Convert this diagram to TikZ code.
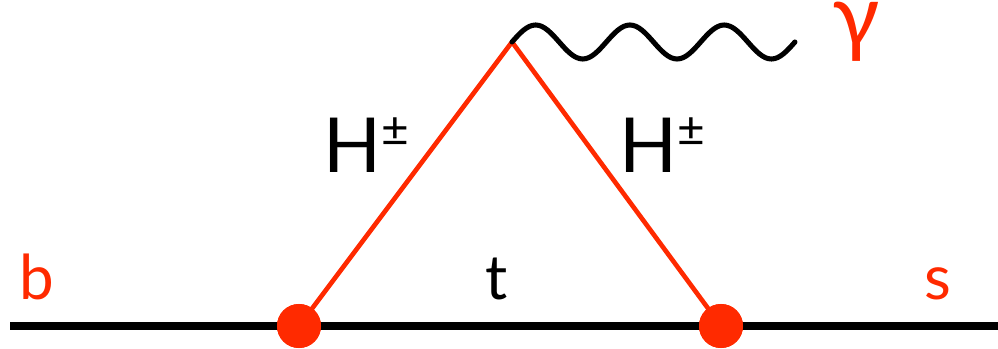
\documentclass[tikz,border=0pt]{standalone}
\usepackage{fontspec}
\setmainfont{Lato}
\usepackage{xcolor}
\usetikzlibrary{positioning}

\definecolor{vtxred}{HTML}{FF2A00}

\newcommand{\chpm}{H\raisebox{19pt}{\fontsize{34}{34}\selectfont ±}}

\begin{document}
\begin{tikzpicture}[
  x=0.025cm, y=0.025cm,
  quark/.style={line width=5.2pt, black},
  higgs/.style={line width=3.3pt, vtxred},
  photon/.style={line width=3.6pt, black, line cap=round},
  vtx/.style={circle, fill=vtxred, inner sep=0pt, minimum size=1.1cm},
  flav/.style={font=\fontsize{44}{48}\selectfont, text=vtxred, anchor=base, inner sep=1pt},
  lbl/.style={font=\fontsize{54}{58}\selectfont, anchor=base, inner sep=1pt}
]

\useasboundingbox (0,0) rectangle (998,348);

% external quark line
\coordinate (in) at (10,22);
\coordinate (out) at (998,22);
\draw[quark] (in) -- (out);

% vertices
\node[vtx] (v1) at (299,22) {};
\node[vtx] (v2) at (721,22) {};
\coordinate (top) at (512,306);

% charged Higgs legs
\draw[higgs] (v1.center) -- (top);
\draw[higgs] (top) -- (v2.center);
\node[vtx] at (v1) {};
\node[vtx] at (v2) {};

% photon, three periods
\draw[photon] (top) \foreach \k in {1,2,3} {
  sin ++(23.58,17) cos ++(23.58,-17) sin ++(23.58,-17) cos ++(23.58,17)
} coordinate (gend);

% labels
\node[flav] (b) at (37,48) {b};
\node[flav] (s) at (938,48) {s};
\node[flav, text=black] (t) at (497,48) {t};
\node[lbl] (hl) at (366,175) {\chpm};
\node[lbl] (hr) at (662,175) {\chpm};
\node[font=\fontsize{62}{66}\selectfont, text=vtxred, inner sep=0pt, anchor=base,
  text height=0.45em, text depth=0.2em] (gam) at (856,301) {γ};

\end{tikzpicture}
\end{document}
